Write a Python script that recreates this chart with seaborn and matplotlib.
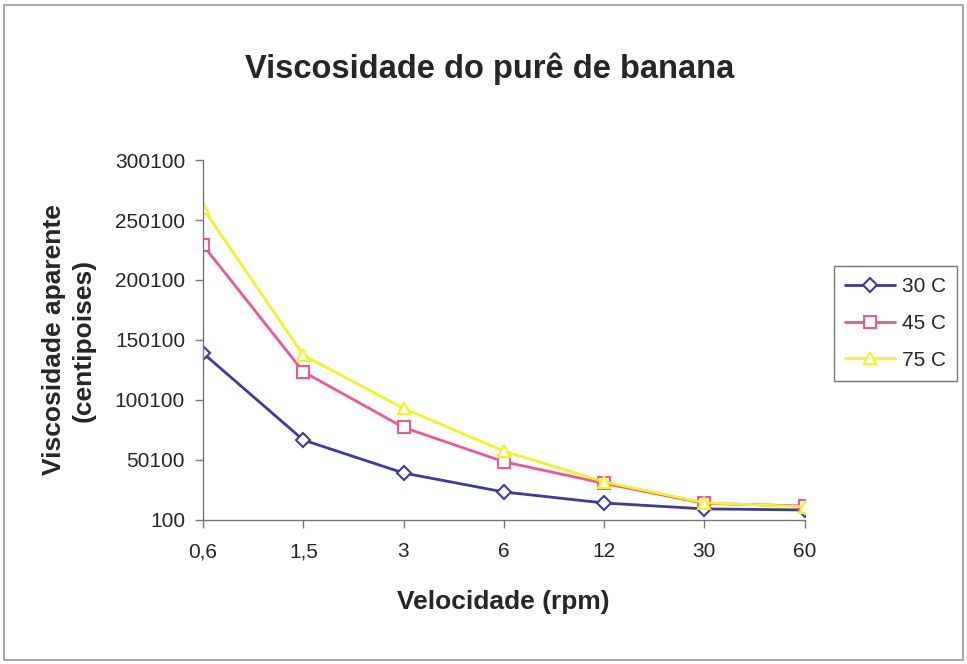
import pandas as pd
import matplotlib
matplotlib.use("Agg")
from matplotlib import pyplot as plt
from matplotlib.patches import Rectangle
import seaborn as sns

# rotação do viscosímetro (rpm) e viscosidade aparente (cP)
velocidade = ["0,6", "1,5", "3", "6", "12", "30", "60"]
visc_30 = [139100, 66700, 39200, 23400, 14200, 9300, 8400]
visc_45 = [229100, 123600, 77200, 48600, 30600, 13900, 11700]
visc_75 = [259700, 137500, 93100, 57500, 31900, 14400, 11100]

series = [
    ("30 C", visc_30, "#3b3b9c", "D"),
    ("45 C", visc_45, "#e8589a", "s"),
    ("75 C", visc_75, "#f2f224", "^"),
]

sns.set_style("white")
plt.rcParams["font.family"] = ["Liberation Sans", "DejaVu Sans"]

fig = plt.figure(figsize=(9.67, 6.64), dpi=100)
ax = fig.add_axes([0.21, 0.217, 0.622, 0.542])

for name, vals, color, marker in series:
    df = pd.DataFrame({"Velocidade": velocidade, "Viscosidade": vals})
    sns.lineplot(data=df, x="Velocidade", y="Viscosidade", sort=False, ax=ax,
                 color=color, marker=marker, markersize=9 if marker != "D" else 7,
                 markerfacecolor="white", markeredgecolor=color, markeredgewidth=1.5,
                 linewidth=2, label=name)

ax.set_xlim(0, len(velocidade) - 1)
ax.set_ylim(100, 300100)
ax.set_yticks(range(100, 300101, 50000))
ax.set_yticklabels([str(v) for v in range(100, 300101, 50000)])
ax.tick_params(axis="both", labelsize=15, length=6, width=1, color="#777777",
               direction="out", bottom=True, left=True, pad=7)
ax.tick_params(axis="x", pad=10)
for side in ["top", "right"]:
    ax.spines[side].set_visible(False)
for side in ["left", "bottom"]:
    ax.spines[side].set_color("#777777")
    ax.spines[side].set_linewidth(1)

ax.set_xlabel("Velocidade (rpm)", fontsize=19, fontweight="bold", labelpad=21)
ax.set_ylabel("Viscosidade aparente\n(centipoises)", fontsize=19,
              fontweight="bold", labelpad=14, linespacing=1.3)
fig.text(0.506, 0.897, "Viscosidade do purê de banana", ha="center", va="center",
         fontsize=23.5, fontweight="bold")

leg = ax.legend(loc="center", bbox_to_anchor=(0.926, 0.513),
                bbox_transform=fig.transFigure, fontsize=15, frameon=True,
                fancybox=False, edgecolor="#555555", handlelength=2.4,
                handletextpad=0.3, borderpad=0.55, labelspacing=0.85,
                borderaxespad=0)
leg.get_frame().set_linewidth(1)

fig.patches.append(Rectangle((0.004, 0.006), 0.992, 0.986, transform=fig.transFigure,
                             fill=False, edgecolor="#999999", linewidth=1.2))

fig.savefig("out.png", dpi=100)
